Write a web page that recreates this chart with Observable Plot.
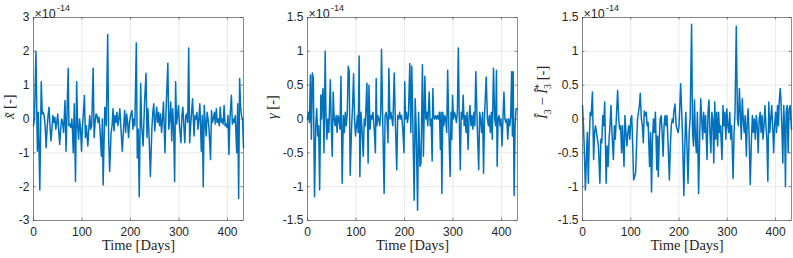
<!DOCTYPE html>
<html>
<head>
<meta charset="utf-8">
<script src="https://cdn.jsdelivr.net/npm/d3@7"></script>
<script src="https://cdn.jsdelivr.net/npm/@observablehq/plot@0.6"></script>
<style>
  html, body { margin: 0; padding: 0; background: #fff; }
  #wrap { position: relative; width: 793px; height: 258px; overflow: hidden; background: #fff; }
</style>
</head>
<body>
<div id="wrap"></div>
<script>
// ---- Data (values in units of 1e-14) ----
const xTicks = [0, 100, 200, 300, 400];
const yTicks1 = [-3, -2, -1, 0, 1, 2, 3];
const yTicks23 = [-1.5, -1, -0.5, 0, 0.5, 1, 1.5];
const xLabel = "Time [Days]";
const yLabels = ["x\u0303 [-]", "\u03B3 [-]", "\u00CE3 \u2212 \u00CE3* [-]"];
// rich versions of the y labels (italic / sub / sup parts)
const yLabelParts = [
  [{t: "x\u0303", i: true}, {t: " [-]"}],
  [{t: "\u03B3", i: true}, {t: " [-]"}],
  [{t: "\u00CE", i: true}, {t: "3", sub: true}, {t: " \u2212 "}, {t: "\u00CE", i: true}, {t: "3", sub: true}, {t: "*", sup: true}, {t: " [-]"}]
];
const exponentText = ["\u00D710", "-14"];

const days1 = [0,2,5,8,10,13,16,18,20,22,24,26,28,30,32,34,36,38,40,42,44,46,48,50,52,54,56,58,60,62,65,67,69,71.5,73,75,77,79,80,82,84,86.6,89,91,93,95,97,99,101,103,105,107,109,112,114,116,118,120,123,125,127,129,131,133,135,137,140,142,143.6,147,150,153,155,157,160,162,164,166,168,170,172,174,176,178,180,183,186,188,190,192,194,196,198,200,203,205,207,209,212,214,216,218,221,223,226,229,232,234,236,238,241,244,246,248,250,252,254,256,258,260,262,264,266,268,271,273,277,279,281,283,285,287,289,291,293,295,297,299,301,304,306,308,310,312,314,316,318,320,322,324,326,328,331,333,335,337,339,341,343,346,348,350,352,354,356,358,360,362,365,367,369,371,373,375,377,379,381,383,385,387,389,391,393,395,397,399,401,403,405,408,410,412,414,416,419,421,423,425,427,429,431,433];
const xTilde = [-0.2,0.0,2.0,-0.95,0.2,-2.1,1.1,0.15,0.2,0.1,-0.2,-0.85,-0.3,0.1,0.35,-0.2,-0.65,-0.3,0.1,-0.1,0.05,-0.3,-0.1,0.15,-0.35,-0.75,-0.3,0.0,-0.1,-0.4,0.55,-0.95,0.1,1.5,-0.2,-0.15,-0.25,0.0,-0.2,-1.0,0.45,-1.85,1.1,-0.2,-0.6,0.0,-0.3,-0.95,-0.2,0.2,0.7,-0.55,-0.2,-0.8,-0.3,0.1,-0.3,-0.2,1.5,-0.55,-0.1,0.15,0.1,-0.1,0.05,-0.3,-1.1,0.0,-1.95,0.35,-0.2,2.5,-0.6,-1.55,-0.4,-0.2,0.3,-0.35,0.1,-0.1,0.2,-0.2,0.0,0.3,-0.2,-0.95,-0.2,0.25,-0.4,0.15,-0.1,-0.55,-0.1,0.1,0.25,-0.3,0.0,-0.2,2.25,-1.15,-0.3,-2.3,1.05,-0.2,-0.8,0.5,1.35,-0.55,0.3,-0.4,-1.7,-0.3,0.2,0.45,-0.35,0.0,0.35,-0.1,0.2,-0.2,0.15,-0.4,0.0,0.5,-1.0,0.1,1.65,-0.3,0.0,0.5,-0.65,0.3,-0.3,-1.85,1.1,-0.15,0.1,0.4,-0.2,-0.7,0.1,0.35,-0.2,-0.7,0.1,0.15,-0.1,2.1,-0.7,-0.2,0.2,0.6,-0.5,0.1,0.0,0.2,-0.3,0.0,0.45,-0.95,0.1,-2.0,0.4,-0.1,-0.5,0.2,0.0,-0.3,-1.2,0.25,-0.1,0.0,0.2,-0.15,0.3,-0.1,0.0,-0.2,0.35,-0.1,0.0,-0.15,0.4,-0.2,-0.15,-0.25,0.1,-1.05,0.0,0.7,-0.15,0.0,-0.1,0.1,-1.0,0.45,-2.35,1.2,0.35,0.1,0.0,-0.85];

const days2 = [0,2,4,6,8,10,12,14.5,17,19,21,23,25,27.5,29,30,32,34,36.5,38,40,42,44,47,49,51,53,55,57,59,61,63,65,67,69,71.5,74,76,78,80,82,84,86,88,91,93,95,97,99,101,103,104.5,106.5,108,110,112,115,117,119,122.5,125,126.7,129,131,133,135,138,140,141.6,143,145,147,149,151,152.6,155,158,160,162,164,166,167.8,170,172,174,176,178.8,181,184,186,188,190,192,194,196,199,200.5,202,204,206,208,211,213,215,217,220,222,224,227,229,232,234,237,239,242,244,246,248,251,253,255,257,258.5,260,262,264,266,268,270,272,274,275.5,277,279,281,283,285,287,289,291,294,296,297.5,299,301,303,305,307,309,311,313,315,317,319,321,323,325,327,329,331,333,335,337,339,341,343,345,347,350,353,355,357,359,361,363,365,368.5,371,373,375,377,379,381,383.5,386,388,389.6,391,393,395,397,399,401,403,405,407,409,411,413,415,417,419,421,422.5,424,426,428,430,433];
const gamma = [0.0,0.1,-0.05,0.65,-0.3,0.68,0.6,-1.15,-0.1,0.15,-0.25,-0.1,-1.05,0.35,0.0,0.3,0.45,-0.5,1.0,0.1,-0.3,0.0,-0.2,0.58,-0.1,-0.55,0.4,0.0,-0.1,0.05,-0.2,0.05,0.0,-0.15,0.63,-0.95,0.05,-0.2,0.1,-0.1,0.1,0.78,0.7,-0.83,-0.1,0.2,0.67,0.0,-0.25,-0.1,0.05,-0.2,0.93,-0.85,0.1,-0.1,-0.55,0.0,-0.1,0.53,-0.65,0.5,-0.15,0.05,0.0,0.1,-0.2,-0.5,0.6,-0.1,0.05,0.0,-0.1,0.1,1.03,0.0,-1.1,0.05,0.1,0.0,-0.35,0.75,0.0,0.1,0.0,-0.1,0.68,0.0,-0.75,0.05,0.0,0.1,0.0,0.05,-0.1,-0.5,0.55,0.0,0.1,-0.05,0.05,0.82,-0.2,0.78,0.0,-1.2,0.3,-0.1,-1.35,0.1,-0.7,-0.65,0.8,-0.55,0.63,0.0,0.1,-0.1,0.4,-0.1,0.0,-0.62,0.45,0.05,0.0,0.05,0.0,0.05,0.0,0.1,-0.45,0.1,-1.1,0.1,-0.1,0.05,0.0,-0.2,0.72,0.0,-0.85,0.1,-0.3,0.35,0.0,0.1,0.05,-0.05,0.1,1.05,0.0,-0.75,0.1,0.0,0.35,-0.1,0.05,-0.2,0.1,-0.45,0.0,0.2,-0.1,0.05,-0.15,0.1,-0.1,0.7,-0.1,-0.75,0.1,0.0,-0.2,0.1,-0.8,0.05,0.62,0.0,-0.1,0.05,-0.2,0.1,-0.3,0.75,0.0,-0.1,0.72,-0.7,0.0,0.05,-0.1,0.0,-0.4,0.0,0.4,0.0,-0.05,0.0,-0.3,0.0,-0.1,0.05,0.7,-0.25,0.7,-1.13,-0.1,0.15,0.15];

const days3 = [0,2,4,6,8,10,12,14,16,18,20.6,23,25,27,29,31,33,36,38,40,42,44,46,49,51,53,55,57,59,61,64,66,68,70,72.8,75,77,79,81,83,86,88,90,92,94,96,98,100,102,104,106,108,110,112,114,116,118,119.6,122,124,126,128,130,132,134,136,139,141,143,145,147,149,151,154,155.5,157,159,161,163,165,167,169,171,173,175,177,180,182,184,186,188,189,191.7,194,196,198,200,203.4,205,207,210,212,214,216,218.6,221,223,226,228,230,232,234,236,238,240.5,243,245,247,249,251,253,255,258,260,262,264,266,268,270,272,274,276,278,280,282,284,286,289,291,293,295,297,299,301,303,305,307,309,312,314,316,318.6,321,323,325,327,329,331,333,335,337,339.5,341,343,345,347.5,350,352,354,356,358,360,362,364,366,368,370,372,374,376,378,380,382,384,386,388,390,392,394,396,398,400,402,404,406,407.5,409.6,411,413,415,417,419,420.5,422,424,426,428,430,433];
const dI3 = [0.2,-0.1,-0.5,-1.05,-0.6,-0.2,-0.95,-0.3,0.1,0.05,0.4,-0.6,-0.2,-0.1,-0.2,-0.3,-0.4,-0.95,-0.3,-0.35,0.05,-0.1,0.25,-0.95,-0.4,-0.7,-0.3,-0.1,0.2,-0.2,-0.6,-0.1,-0.3,0.0,0.42,0.0,-0.15,-0.1,-0.5,-0.1,-0.7,0.05,-0.2,-0.4,-0.2,-0.1,-0.3,0.0,0.05,-0.4,-0.9,-0.85,-0.8,-0.4,0.0,0.1,0.2,0.38,0.0,-0.1,-0.35,0.12,0.05,0.1,-0.1,-0.05,-0.7,-0.2,-1.08,-0.3,0.0,-0.2,0.1,-0.75,-0.25,-0.85,-0.3,0.0,0.05,-0.2,-0.55,-0.1,0.05,-0.1,0.05,-0.3,-0.9,-0.4,-0.1,0.0,-0.05,0.1,0.22,-0.1,-0.15,-0.2,-0.1,0.52,0.2,-0.2,-1.13,-0.4,0.1,-0.3,-0.95,-0.2,0.0,1.4,-0.2,-0.4,0.28,-0.3,-0.5,0.1,-1.1,-0.2,0.3,0.0,-0.3,0.1,-0.2,0.05,-0.6,0.1,0.28,-0.2,-0.5,0.1,0.0,-0.65,0.25,-0.3,0.1,-0.4,0.1,-0.2,-0.1,-0.6,0.2,-0.1,0.1,-0.3,0.15,-0.1,-0.2,0.1,-0.3,-0.1,-0.88,-0.2,0.1,1.37,0.0,-0.1,0.45,0.1,-0.3,0.3,0.0,-0.2,0.05,-0.55,-0.1,0.15,-0.2,-0.97,-0.3,0.05,-0.2,0.0,-0.3,0.05,-0.1,-0.5,0.0,0.1,-0.2,0.05,-0.3,-0.1,0.2,-0.1,-0.3,-0.92,0.25,-0.2,0.0,0.2,-0.1,-0.5,-0.1,0.1,-0.2,0.2,-0.1,0.25,0.45,0.3,-0.1,-0.65,0.2,-0.2,-1.0,0.1,0.2,-0.5,0.15,0.2,-0.15];

// ---- Layout ----
const panels = [
  {left: 0,   width: 265, ml: 33, mr: 22, days: days1, vals: xTilde, yDomain: [-3, 3],     yTicks: yTicks1,  k: 0, ylabDx: -24},
  {left: 265, width: 275, ml: 42, mr: 23, days: days2, vals: gamma,  yDomain: [-1.5, 1.5], yTicks: yTicks23, k: 1, ylabDx: -35},
  {left: 540, width: 253, ml: 42, mr: 2,  days: days3, vals: dI3,    yDomain: [-1.5, 1.5], yTicks: yTicks23, k: 2, ylabDx: -40}
];

const wrap = document.getElementById("wrap");
const sans = "Liberation Sans, Arial, Helvetica, sans-serif";
const serif = "Liberation Serif, Times New Roman, serif";
const H = 258, MT = 17, MB = 38;
const tickLen = 2.5;
const axisColor = "#404040";

for (const p of panels) {
  const data = p.days.map((d, i) => ({t: d, v: p.vals[i]}));
  const plotW = p.width - p.ml - p.mr;
  const plotH = H - MT - MB;
  const chart = Plot.plot({
    width: p.width,
    height: H,
    marginTop: MT,
    marginBottom: MB,
    marginLeft: p.ml,
    marginRight: p.mr,
    style: {fontFamily: sans, fontSize: "12px", color: "#262626", background: "transparent", overflow: "visible"},
    x: {domain: [0, 433], label: null},
    y: {domain: p.yDomain, label: null},
    marks: [
      Plot.gridX(xTicks, {stroke: "#e5e5e5", strokeOpacity: 1, strokeWidth: 0.8}),
      Plot.gridY(p.yTicks, {stroke: "#e5e5e5", strokeOpacity: 1, strokeWidth: 0.8}),
      Plot.axisX(xTicks, {tickSize: 0, tickPadding: 6.5, tickFormat: d => String(d), fontSize: 12, label: null}),
      Plot.axisY(p.yTicks, {tickSize: 0, tickPadding: 4, tickFormat: d => String(d), fontSize: 12, label: null}),
      Plot.line(data, {x: "t", y: "v", stroke: "#0072BD", strokeWidth: 1.5, strokeLinejoin: "round"}),
      // inward MATLAB-style ticks on all four sides
      Plot.tickX(xTicks, {x: d => d, insetTop: plotH - tickLen, stroke: axisColor, strokeWidth: 0.6}),
      Plot.tickX(xTicks, {x: d => d, insetBottom: plotH - tickLen, stroke: axisColor, strokeWidth: 0.6}),
      Plot.tickY(p.yTicks, {y: d => d, insetRight: plotW - tickLen, stroke: axisColor, strokeWidth: 0.6}),
      Plot.tickY(p.yTicks, {y: d => d, insetLeft: plotW - tickLen, stroke: axisColor, strokeWidth: 0.6}),
      Plot.frame({stroke: axisColor, strokeWidth: 0.6}),
      Plot.text([exponentText[0]], {text: d => d, frameAnchor: "top-left", textAnchor: "start", dx: 1, dy: -8, fontSize: 12.5, fill: "#262626"}),
      Plot.text([exponentText[1]], {text: d => d, frameAnchor: "top-left", textAnchor: "start", dx: 23.5, dy: -13, fontSize: 9, fill: "#262626"}),
      Plot.text([xLabel], {text: d => d, frameAnchor: "bottom", dy: 29.5, fontFamily: serif, fontSize: 14.5, fill: "#262626"}),
      Plot.text([yLabels[p.k]], {text: d => d, frameAnchor: "left", rotate: -90, dx: p.ylabDx, fontFamily: serif, fontSize: 14.5, fill: "#262626"})
    ]
  });
  // rebuild the y label with italic / sub / superscript parts (still real text)
  for (const t of chart.querySelectorAll("text")) {
    if (t.textContent === yLabels[p.k]) {
      const sel = d3.select(t);
      sel.text(null);
      let shift = 0;
      for (const part of yLabelParts[p.k]) {
        const ts = sel.append("tspan").text(part.t);
        if (part.i) ts.attr("font-style", "italic");
        let target = 0;
        if (part.sub) { target = 4; ts.attr("font-size", "10px"); }
        if (part.sup) { target = -5; ts.attr("font-size", "10px").attr("dx", "-5"); }
        if (target !== shift) { ts.attr("dy", target - shift); shift = target; }
      }
    }
  }
  chart.style.position = "absolute";
  chart.style.left = p.left + "px";
  chart.style.top = "0px";
  wrap.appendChild(chart);
}
</script>
</body>
</html>
